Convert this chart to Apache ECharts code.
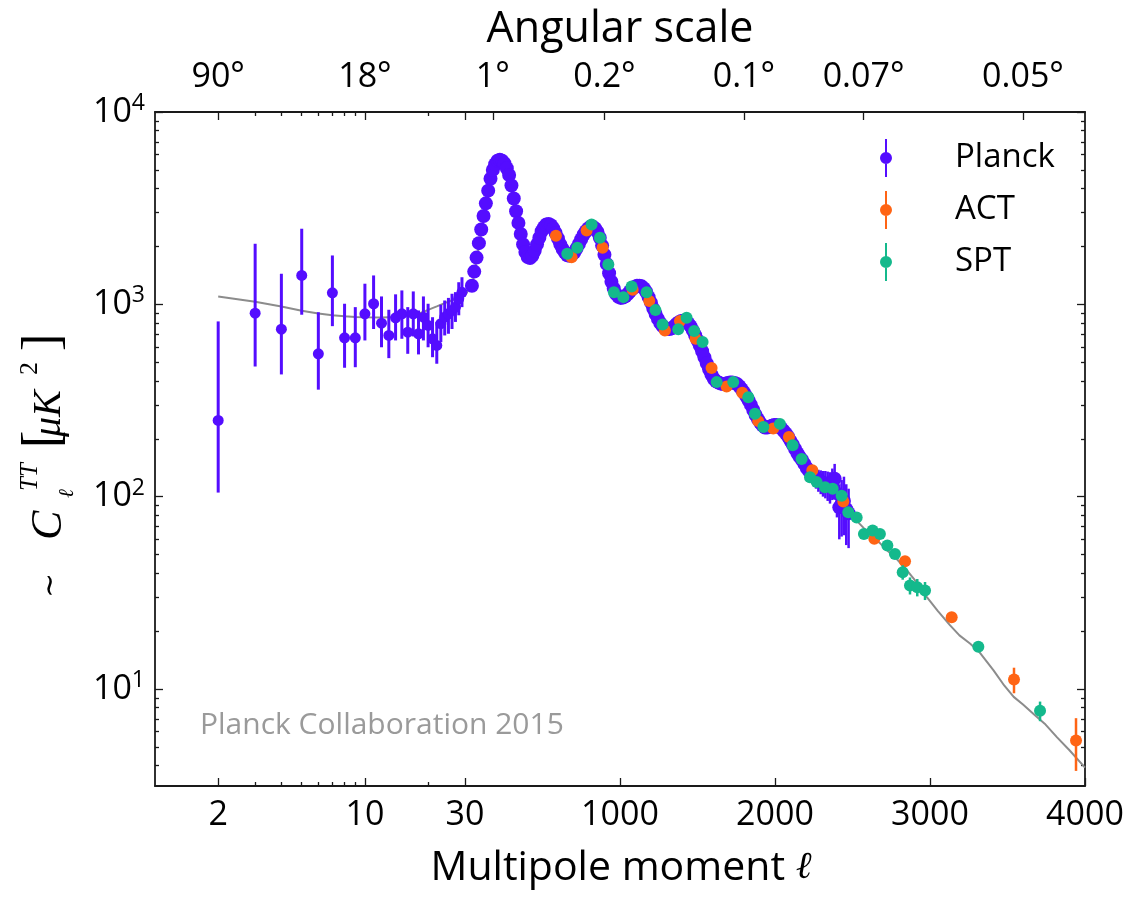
<!DOCTYPE html>
<html>
<head>
<meta charset="utf-8">
<script src="https://cdn.jsdelivr.net/npm/echarts@6/dist/echarts.min.js"></script>
<style>
  html, body { margin: 0; padding: 0; background: #fff; }
  #chart { width: 1134px; height: 898px; }
</style>
</head>
<body>
<div id="chart"></div>
<script>
// ---------------- data (D_l in μK²) ----------------
const planckLowL  = [2, 3, 4, 5, 6, 7, 8, 9, 10, 11, 12, 13, 14, 15, 16, 17, 18, 19, 20, 21, 22, 23, 24, 25, 26, 27, 28, 29];
const planckLowD  = [249, 900, 743, 1413, 553, 1148, 670, 670, 893, 1007, 798, 689, 851, 893, 716, 893, 703, 857, 777, 662, 611, 793, 857, 893, 929, 967, 1069, 1155];
const planckLowLo = [105, 475, 432, 883, 360, 770, 468, 471, 649, 744, 598, 525, 649, 662, 553, 681, 549, 649, 598, 531, 491, 636, 689, 703, 744, 810, 877, 967];
const planckLowHi = [815, 2065, 1442, 2472, 910, 1795, 1007, 967, 1280, 1413, 1099, 937, 1127, 1181, 967, 1167, 929, 1099, 1007, 857, 810, 995, 1047, 1080, 1135, 1157, 1303, 1383];

const planckHighL = [
  45, 60, 75, 90, 105, 120, 135, 150, 165, 180,
  195, 210, 225, 240, 255, 270, 285, 300, 315, 330,
  345, 360, 375, 390, 405, 420, 435, 450, 465, 480,
  495, 510, 525, 540, 555, 570, 585, 600, 615, 630,
  645, 660, 675, 690, 705, 720, 735, 750, 765, 780,
  795, 810, 825, 840, 855, 870, 885, 900, 915, 930,
  945, 960, 975, 990, 1005, 1020, 1035, 1050, 1065, 1080,
  1095, 1110, 1125, 1140, 1155, 1170, 1185, 1200, 1215, 1230,
  1245, 1260, 1275, 1290, 1305, 1320, 1335, 1350, 1365, 1380,
  1395, 1410, 1425, 1440, 1455, 1470, 1485, 1500, 1515, 1530,
  1545, 1560, 1575, 1590, 1605, 1620, 1635, 1650, 1665, 1680,
  1695, 1710, 1725, 1740, 1755, 1770, 1785, 1800, 1815, 1830,
  1845, 1860, 1875, 1890, 1905, 1920, 1935, 1950, 1965, 1980,
  1995, 2010, 2025, 2040, 2055, 2070, 2085, 2100, 2115, 2130,
  2145, 2160, 2175, 2190, 2205, 2220, 2235, 2250, 2265, 2280,
  2295, 2310, 2325, 2340, 2355, 2370, 2385, 2400, 2415, 2430,
  2445, 2460, 2475];
const planckHighD = [
  1250, 1480, 1750, 2080, 2450, 2880, 3350, 3900, 4500, 5000,
  5350, 5580, 5650, 5580, 5400, 5100, 4700, 4150, 3550, 3050,
  2650, 2320, 2050, 1870, 1760, 1740, 1790, 1900, 2050, 2220,
  2400, 2520, 2600, 2620, 2580, 2480, 2350, 2200, 2050, 1940,
  1860, 1800, 1790, 1810, 1860, 1950, 2060, 2180, 2300, 2400,
  2480, 2530, 2530, 2480, 2380, 2220, 2020, 1810, 1620, 1450,
  1310, 1210, 1130, 1095, 1080, 1085, 1100, 1130, 1170, 1205,
  1230, 1248, 1250, 1240, 1210, 1160, 1090, 1020, 950, 890,
  840, 800, 770, 752, 745, 744, 750, 768, 790, 808,
  820, 822, 815, 797, 770, 732, 690, 650, 610, 570,
  530, 493, 460, 432, 410, 398, 392, 387, 385, 386,
  390, 392, 392, 390, 385, 375, 362, 348, 332, 316,
  300, 282, 266, 253, 242, 234, 229, 229, 231, 234,
  236, 236, 233, 227, 220, 213, 205, 195, 186, 177,
  168, 161, 155, 148, 141, 136, 132, 128, 125, 122,
  120, 118, 117, 115, 113, 118, 124, 104, 88, 92,
  95, 86, 82];
const planckHighErr = [
  55, 60, 70, 80, 95, 110, 120, 135, 145, 150,
  150, 150, 145, 140, 135, 125, 115, 100, 85, 75,
  65, 55, 50, 45, 42, 42, 43, 45, 48, 50,
  52, 54, 55, 55, 54, 52, 50, 47, 44, 42,
  40, 39, 39, 40, 41, 43, 45, 47, 49, 51,
  52, 53, 53, 52, 50, 47, 43, 39, 35, 31,
  28, 26, 25, 24, 24, 24, 25, 25, 26, 27,
  28, 28, 28, 28, 28, 27, 26, 24, 22, 21,
  20, 19, 18, 18, 18, 18, 18, 19, 19, 20,
  20, 20, 20, 20, 19, 18, 17, 16, 15, 14,
  13, 12, 12, 11, 11, 11, 11, 11, 11, 11,
  11, 11, 11, 11, 11, 11, 11, 11, 10, 10,
  10, 10, 10, 9, 9, 9, 9, 9, 9, 9,
  9, 9, 9, 9, 9, 9, 9, 9, 9, 9,
  9, 9, 10, 10, 11, 12, 13, 14, 15, 16,
  17, 18, 19, 20, 21, 22, 24, 26, 28, 30,
  32, 30, 28];

const actL   = [587, 688, 785, 888, 1082, 1189, 1290, 1387, 1488, 1591, 1688, 1789, 1892, 1989, 2090, 2241, 2441, 2641, 2839, 3140, 3542, 3942];
const actD   = [2275, 1758, 2421, 1968, 1191, 1040, 731, 818, 662, 466, 374, 347, 247, 226, 204, 137, 94.4, 60.4, 46.2, 23.6, 11.2, 5.4];
const actErr = [60, 45, 55, 45, 28, 24, 17, 18, 14, 10, 8, 7, 5, 5, 4.5, 3.5, 2.5, 2, 1.6, 1, 1.7, 1.65];

const sptL   = [660, 725, 817, 871, 925, 961, 1022, 1075, 1172, 1229,
  1275, 1376, 1430, 1479, 1533, 1624, 1731, 1828, 1871, 1925,
  2032, 2114, 2172, 2226, 2269, 2323, 2372, 2430, 2473, 2527,
  2574, 2630, 2677, 2725, 2774, 2824, 2871, 2918, 2968, 3312, 3710];
const sptD   = [1832, 1968, 2600, 2219, 1611, 1156, 1090, 1239, 1156, 933,
  785, 741, 851, 727, 637, 394, 394, 329, 270, 230,
  239, 185, 157, 126, 119, 112, 110, 101, 83, 78,
  64, 66.7, 64, 55.7, 50.4, 40.5, 34.5, 33.8, 32.5, 16.6, 7.7];
const sptErr = [40, 40, 50, 45, 35, 25, 22, 24, 22, 18,
  15, 14, 15, 13, 12, 8, 8, 7, 6, 5,
  5, 4, 3.5, 3, 3, 3, 3, 3, 2.5, 2.5,
  2.2, 2.2, 2.2, 2, 2, 3.5, 3.5, 3.5, 3.5, 0.8, 0.9];

const theoryL = [2, 3, 4, 5, 6, 7, 8, 9, 10, 12, 14, 16, 18, 20, 22, 24, 26, 28, 30,
  50, 80, 110, 140, 170, 200, 220, 240, 270, 300,
  330, 360, 390, 420, 450, 480, 510, 540, 570, 600,
  630, 660, 690, 720, 750, 780, 810, 840, 870, 900,
  930, 960, 990, 1020, 1050, 1080, 1110, 1140, 1170, 1200,
  1230, 1260, 1290, 1320, 1350, 1380, 1410, 1440, 1470, 1500,
  1530, 1560, 1590, 1620, 1650, 1680, 1710, 1740, 1770, 1800,
  1830, 1860, 1890, 1920, 1950, 1980, 2010, 2040, 2070, 2100,
  2130, 2160, 2190, 2220, 2250, 2280, 2310, 2340, 2370, 2400,
  2430, 2460, 2490, 2520, 2570, 2620, 2680, 2730, 2790, 2850,
  2900, 2980, 3050, 3130, 3190, 3260, 3320, 3410, 3480, 3540,
  3600, 3670, 3740, 3820, 3900, 4000];
const theoryD = [1099, 1030, 975, 925, 895, 878, 866, 860, 857, 855, 858, 870, 895, 935, 975, 1015, 1050, 1085, 1110,
  1300, 1800, 2500, 3450, 4600, 5400, 5650, 5600, 5100, 4200,
  3200, 2400, 1900, 1720, 1850, 2150, 2450, 2580, 2480, 2200,
  1930, 1800, 1790, 1930, 2170, 2420, 2530, 2450, 2200, 1820,
  1440, 1180, 1080, 1090, 1150, 1220, 1250, 1240, 1150, 1010,
  880, 790, 750, 745, 770, 805, 820, 800, 730, 650,
  565, 490, 430, 395, 385, 388, 392, 388, 370, 340,
  310, 278, 252, 236, 230, 233, 236, 232, 215, 198,
  178, 162, 150, 140, 132, 124, 117, 111, 105, 99,
  93, 86, 80, 76, 69, 63, 57, 52, 47, 41.5,
  37, 30, 25.5, 21.4, 19, 17.2, 15.5, 12.5, 10.4, 9.1,
  8.3, 7.4, 6.6, 5.6, 4.8, 3.9];

// tick positions
const bottomMajorL = [2, 10, 30, 1000, 2000, 3000, 4000];
const bottomMinorL = [3, 4, 5, 6, 7, 8, 9, 20];
const topAngleDeg  = [90, 18, 1, 0.2, 0.1, 0.07, 0.05];
const topExtraMajorL = [30];
const yMajor = [10, 100, 1000, 10000];
const yMinor = [4, 5, 6, 7, 8, 9, 20, 30, 40, 50, 60, 70, 80, 90,
  200, 300, 400, 500, 600, 700, 800, 900, 2000, 3000, 4000, 5000, 6000, 7000, 8000, 9000];

// ---------------- multipole axis ----------------
// Logarithmic in ℓ up to ℓ = 30, linear in ℓ beyond; axis units are decades of the log part.
const LOG_END = 30;
const LIN_START = Math.log10(LOG_END) + 0.0216;
const LIN_SLOPE = 0.7385 / 1000;          // decades per multipole on the linear part
const mapL = l => (l <= LOG_END ? Math.log10(l) : LIN_START + (l - LOG_END) * LIN_SLOPE);
const U_MIN = 0;                          // ℓ = 1
const U_MAX = mapL(4000);
const Y_MIN = 3.13, Y_MAX = 10000;

const C_PLANCK = '#540dff', C_ACT = '#ff6414', C_SPT = '#14b98c';
const FONT = '"Open Sans", "Liberation Sans", sans-serif';
const AX = '#1a1a1a';

const labelFor = (list, text) => v => {
  for (let i = 0; i < list.length; i++) if (Math.abs(list[i] - v) < 1e-9) return text[i];
  return '';
};
const bottomMajorU = bottomMajorL.map(mapL);
const topLabelU = topAngleDeg.map(d => mapL(180 / d));

const baseX = {
  type: 'value', min: U_MIN, max: U_MAX, gridIndex: 0,
  splitLine: { show: false }, minorTick: { show: false },
  axisLine: { show: false, onZero: false }
};
const baseY = {
  type: 'log', logBase: 10, min: Y_MIN, max: Y_MAX, gridIndex: 0,
  splitLine: { show: false }, minorTick: { show: false },
  axisLine: { show: false, onZero: false }
};
const tickStyle = { color: AX, width: 1.3 };
const lineStyle = { color: AX, width: 1.8 };

const xAxes = [
  Object.assign({}, baseX, {
    position: 'bottom',
    axisLine: { show: true, onZero: false, lineStyle },
    axisTick: { inside: true, length: 8, lineStyle: tickStyle, customValues: bottomMajorU },
    axisLabel: {
      customValues: bottomMajorU, margin: 12, color: '#000',
      fontFamily: FONT, fontSize: 34,
      formatter: labelFor(bottomMajorU, bottomMajorL.map(String))
    }
  }),
  Object.assign({}, baseX, {
    position: 'bottom',
    axisTick: { inside: true, length: 4, lineStyle: tickStyle, customValues: bottomMinorL.map(mapL) },
    axisLabel: { show: false }
  }),
  Object.assign({}, baseX, {
    position: 'top',
    axisLine: { show: true, onZero: false, lineStyle },
    axisTick: { inside: true, length: 8, lineStyle: tickStyle, customValues: topLabelU.concat(topExtraMajorL.map(mapL)) },
    axisLabel: {
      customValues: topLabelU, margin: 18, color: '#000',
      fontFamily: FONT, fontSize: 34,
      formatter: labelFor(topLabelU, topAngleDeg.map(d => d + '°'))
    }
  }),
  Object.assign({}, baseX, {
    position: 'top',
    axisTick: { inside: true, length: 4, lineStyle: tickStyle, customValues: bottomMinorL.map(mapL) },
    axisLabel: { show: false }
  })
];

const yAxes = [
  Object.assign({}, baseY, {
    position: 'left',
    axisLine: { show: true, onZero: false, lineStyle },
    axisTick: { inside: true, length: 8, lineStyle: tickStyle, customValues: yMajor },
    axisLabel: {
      customValues: yMajor, margin: 10, color: '#000',
      formatter: v => '{b|10}{s|' + Math.round(Math.log10(v)) + '}',
      rich: {
        b: { fontFamily: FONT, fontSize: 34, lineHeight: 40, color: '#000' },
        s: { fontFamily: FONT, fontSize: 23, lineHeight: 24, verticalAlign: 'top', color: '#000' }
      }
    }
  }),
  Object.assign({}, baseY, {
    position: 'left',
    axisTick: { inside: true, length: 4, lineStyle: tickStyle, customValues: yMinor },
    axisLabel: { show: false }
  }),
  Object.assign({}, baseY, {
    position: 'right',
    axisLine: { show: true, onZero: false, lineStyle },
    axisTick: { inside: true, length: 8, lineStyle: tickStyle, customValues: yMajor },
    axisLabel: { show: false }
  }),
  Object.assign({}, baseY, {
    position: 'right',
    axisTick: { inside: true, length: 4, lineStyle: tickStyle, customValues: yMinor },
    axisLabel: { show: false }
  })
];

// vertical error bar drawn through the axes' own coordinate mapping
const errorBars = (color, width) => (params, api) => {
  const p1 = api.coord([api.value(0), api.value(1)]);
  const p2 = api.coord([api.value(0), api.value(2)]);
  return {
    type: 'line',
    shape: { x1: p1[0], y1: p1[1], x2: p2[0], y2: p2[1] },
    style: { stroke: color, lineWidth: width }
  };
};
const pts = (L, D) => L.map((l, i) => [mapL(l), D[i]]);
const bars = (L, D, E) => L.map((l, i) => [mapL(l), D[i] - E[i], D[i] + E[i]]);

const series = [
  {
    type: 'line', name: 'ΛCDM', z: 2, data: pts(theoryL, theoryD),
    showSymbol: false, symbol: 'none', silent: true,
    lineStyle: { color: '#8c8c8c', width: 2 }
  },
  {
    type: 'custom', name: 'Planck low-ℓ σ', z: 3, silent: true,
    data: planckLowL.map((l, i) => [mapL(l), planckLowLo[i], planckLowHi[i]]),
    encode: { x: 0, y: [1, 2] }, renderItem: errorBars(C_PLANCK, 3)
  },
  {
    type: 'custom', name: 'Planck σ', z: 3, silent: true,
    data: bars(planckHighL, planckHighD, planckHighErr),
    encode: { x: 0, y: [1, 2] }, renderItem: errorBars(C_PLANCK, 2.5)
  },
  {
    type: 'scatter', name: 'Planck', z: 4,
    symbolSize: (v, p) => (p.dataIndex < planckLowL.length ? 11 : 14),
    data: pts(planckLowL, planckLowD).concat(pts(planckHighL, planckHighD)),
    itemStyle: { color: C_PLANCK, opacity: 1 }
  },
  {
    type: 'custom', name: 'ACT σ', z: 5, silent: true,
    data: bars(actL, actD, actErr),
    encode: { x: 0, y: [1, 2] }, renderItem: errorBars(C_ACT, 2.5)
  },
  {
    type: 'scatter', name: 'ACT', z: 6, symbolSize: 12,
    data: pts(actL, actD), itemStyle: { color: C_ACT, opacity: 1 }
  },
  {
    type: 'custom', name: 'SPT σ', z: 7, silent: true,
    data: bars(sptL, sptD, sptErr),
    encode: { x: 0, y: [1, 2] }, renderItem: errorBars(C_SPT, 2.5)
  },
  {
    type: 'scatter', name: 'SPT', z: 8, symbolSize: 12,
    data: pts(sptL, sptD), itemStyle: { color: C_SPT, opacity: 1 }
  }
];

// rotated y-axis title: ~ C_ℓ^TT [μK²]
const serif = '"Liberation Serif", "DejaVu Serif", serif';
const yTitle = {
  type: 'group', x: 63, y: 598, rotation: Math.PI / 2, silent: true,
  children: [
    { type: 'text', x: 0,   y: -12, style: { text: '∼',  font: '30px "DejaVu Serif"', fill: '#000', verticalAlign: 'middle' } },
    { type: 'text', x: 58,  y: -14, style: { text: 'C',  font: 'italic 44px ' + serif, fill: '#000', verticalAlign: 'middle' } },
    { type: 'text', x: 107, y: -33, style: { text: 'TT', font: 'italic 25px ' + serif, fill: '#000', verticalAlign: 'middle' } },
    { type: 'text', x: 100, y: 5,   style: { text: 'ℓ',  font: 'italic 21px "DejaVu Serif"', fill: '#000', verticalAlign: 'middle' } },
    { type: 'text', x: 150, y: -19, style: { text: '[',  font: '52px ' + serif, fill: '#000', verticalAlign: 'middle' } },
    { type: 'text', x: 161, y: -14, style: { text: 'μK', font: 'italic 40px ' + serif, fill: '#000', verticalAlign: 'middle' } },
    { type: 'text', x: 223, y: -33, style: { text: '2',  font: '26px ' + serif, fill: '#000', verticalAlign: 'middle' } },
    { type: 'text', x: 247, y: -19, style: { text: ']',  font: '52px ' + serif, fill: '#000', verticalAlign: 'middle' } }
  ]
};

const option = {
  animation: false,
  backgroundColor: '#fff',
  grid: { left: 155, right: 49, top: 112, bottom: 112, containLabel: false },
  xAxis: xAxes,
  yAxis: yAxes,
  legend: {
    data: ['Planck', 'ACT', 'SPT'],
    orient: 'vertical', left: 880, top: 139, padding: 0,
    itemWidth: 12, itemHeight: 38, itemGap: 14, selectedMode: false,
    icon: 'path://M5,0L7,0L7,38L5,38Z M12,19A6,6,0,1,1,0,19A6,6,0,1,1,12,19Z',
    textStyle: { fontFamily: FONT, fontSize: 33, color: '#000', padding: [0, 0, 0, 58] }
  },
  graphic: [
    yTitle,
    {
      type: 'text', x: 620, y: 30, silent: true,
      style: { text: 'Angular scale', font: '43px ' + FONT, fill: '#000', align: 'center', verticalAlign: 'middle' }
    },
    {
      type: 'text', x: 621, y: 868, silent: true,
      style: {
        text: '{a|Multipole moment }{b|ℓ}', align: 'center', verticalAlign: 'middle',
        rich: {
          a: { fontFamily: FONT, fontSize: 41, fill: '#000' },
          b: { fontFamily: '"DejaVu Serif"', fontStyle: 'italic', fontSize: 38, fill: '#000' }
        }
      }
    },
    {
      type: 'text', x: 200, y: 725, silent: true,
      style: { text: 'Planck Collaboration 2015', font: '30px ' + FONT, fill: '#9a9a9a', verticalAlign: 'middle' }
    }
  ],
  series: series
};

const chart = echarts.init(document.getElementById('chart'), null, { renderer: 'canvas' });
chart.setOption(option);
</script>
</body>
</html>
